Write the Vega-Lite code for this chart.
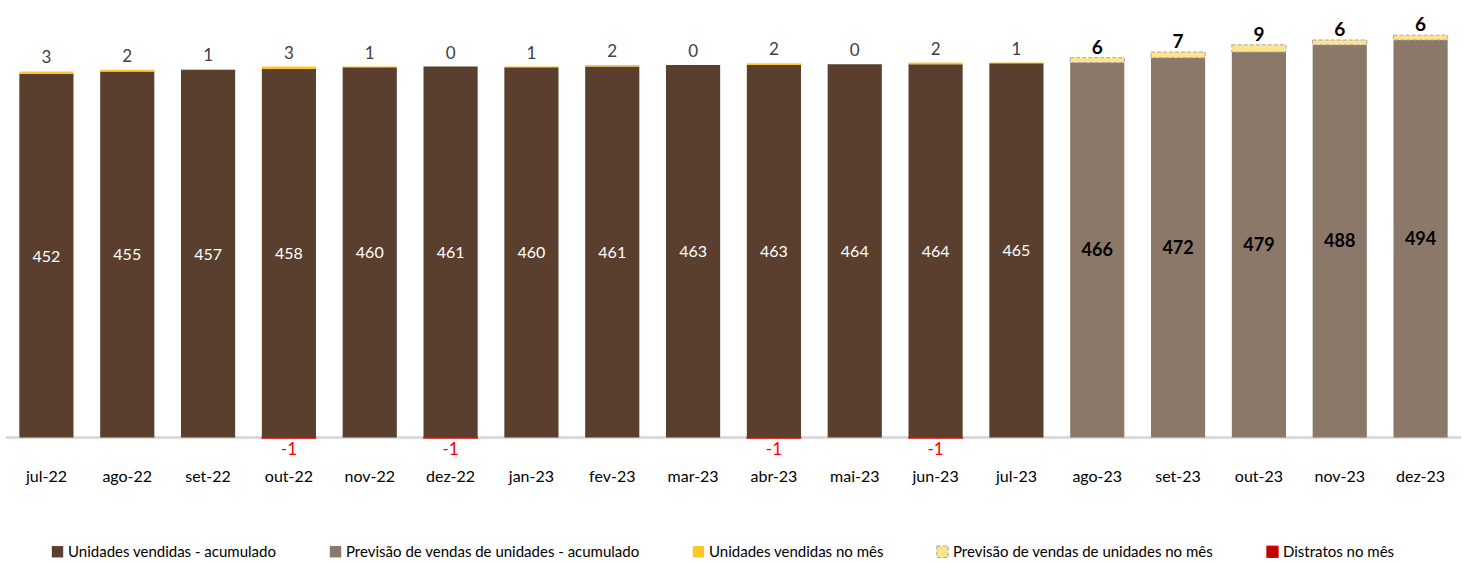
{
  "$schema": "https://vega.github.io/schema/vega-lite/v6.json",
  "width": 1455,
  "height": 436,
  "autosize": {"type": "none"},
  "padding": {"left": 6, "top": 3, "right": 2, "bottom": 124},
  "background": "white",
  "config": {"view": {"stroke": null}, "font": "Lato, sans-serif"},
  "data": {
    "values": [
      {"month": "jul-22", "series": "Unidades vendidas - acumulado", "value": 452, "kind": "real"},
      {"month": "jul-22", "series": "Unidades vendidas no mês", "value": 3, "kind": "real"},
      {"month": "ago-22", "series": "Unidades vendidas - acumulado", "value": 455, "kind": "real"},
      {"month": "ago-22", "series": "Unidades vendidas no mês", "value": 2, "kind": "real"},
      {"month": "set-22", "series": "Unidades vendidas - acumulado", "value": 457, "kind": "real"},
      {"month": "set-22", "series": "Unidades vendidas no mês", "value": 1, "kind": "real"},
      {"month": "out-22", "series": "Unidades vendidas - acumulado", "value": 458, "kind": "real"},
      {"month": "out-22", "series": "Unidades vendidas no mês", "value": 3, "kind": "real"},
      {"month": "out-22", "series": "Distratos no mês", "value": -1, "kind": "real"},
      {"month": "nov-22", "series": "Unidades vendidas - acumulado", "value": 460, "kind": "real"},
      {"month": "nov-22", "series": "Unidades vendidas no mês", "value": 1, "kind": "real"},
      {"month": "dez-22", "series": "Unidades vendidas - acumulado", "value": 461, "kind": "real"},
      {"month": "dez-22", "series": "Unidades vendidas no mês", "value": 0, "kind": "real"},
      {"month": "dez-22", "series": "Distratos no mês", "value": -1, "kind": "real"},
      {"month": "jan-23", "series": "Unidades vendidas - acumulado", "value": 460, "kind": "real"},
      {"month": "jan-23", "series": "Unidades vendidas no mês", "value": 1, "kind": "real"},
      {"month": "fev-23", "series": "Unidades vendidas - acumulado", "value": 461, "kind": "real"},
      {"month": "fev-23", "series": "Unidades vendidas no mês", "value": 2, "kind": "real"},
      {"month": "mar-23", "series": "Unidades vendidas - acumulado", "value": 463, "kind": "real"},
      {"month": "mar-23", "series": "Unidades vendidas no mês", "value": 0, "kind": "real"},
      {"month": "abr-23", "series": "Unidades vendidas - acumulado", "value": 463, "kind": "real"},
      {"month": "abr-23", "series": "Unidades vendidas no mês", "value": 2, "kind": "real"},
      {"month": "abr-23", "series": "Distratos no mês", "value": -1, "kind": "real"},
      {"month": "mai-23", "series": "Unidades vendidas - acumulado", "value": 464, "kind": "real"},
      {"month": "mai-23", "series": "Unidades vendidas no mês", "value": 0, "kind": "real"},
      {"month": "jun-23", "series": "Unidades vendidas - acumulado", "value": 464, "kind": "real"},
      {"month": "jun-23", "series": "Unidades vendidas no mês", "value": 2, "kind": "real"},
      {"month": "jun-23", "series": "Distratos no mês", "value": -1, "kind": "real"},
      {"month": "jul-23", "series": "Unidades vendidas - acumulado", "value": 465, "kind": "real"},
      {"month": "jul-23", "series": "Unidades vendidas no mês", "value": 1, "kind": "real"},
      {"month": "ago-23", "series": "Previsão de vendas de unidades - acumulado", "value": 466, "kind": "prev"},
      {"month": "ago-23", "series": "Previsão de vendas de unidades no mês", "value": 6, "kind": "prev"},
      {"month": "set-23", "series": "Previsão de vendas de unidades - acumulado", "value": 472, "kind": "prev"},
      {"month": "set-23", "series": "Previsão de vendas de unidades no mês", "value": 7, "kind": "prev"},
      {"month": "out-23", "series": "Previsão de vendas de unidades - acumulado", "value": 479, "kind": "prev"},
      {"month": "out-23", "series": "Previsão de vendas de unidades no mês", "value": 9, "kind": "prev"},
      {"month": "nov-23", "series": "Previsão de vendas de unidades - acumulado", "value": 488, "kind": "prev"},
      {"month": "nov-23", "series": "Previsão de vendas de unidades no mês", "value": 6, "kind": "prev"},
      {"month": "dez-23", "series": "Previsão de vendas de unidades - acumulado", "value": 494, "kind": "prev"},
      {"month": "dez-23", "series": "Previsão de vendas de unidades no mês", "value": 6, "kind": "prev"}
    ]
  },
  "encoding": {
    "x": {
      "field": "month", "type": "nominal", "sort": null, "title": null,
      "scale": {"paddingInner": 0.33, "paddingOuter": 0.165},
      "axis": {"domain": false, "ticks": false, "labelAngle": 0, "labelPadding": 29, "labelFontSize": 16, "labelColor": "#000000", "labelFont": "Lato, sans-serif"}
    }
  },
  "layer": [
    {
      "mark": {"type": "rule", "color": "#D9D9D9", "strokeWidth": 1.5},
      "encoding": {"x": null, "y": {"datum": 0, "type": "quantitative", "scale": {"domain": [-2, 540], "nice": false, "zero": false}, "axis": null}}
    },
    {
      "mark": {"type": "bar", "strokeWidth": 1},
      "encoding": {
        "y": {"field": "value", "type": "quantitative", "stack": "zero", "scale": {"domain": [-2, 540], "nice": false, "zero": false}, "axis": null},
        "order": {"field": "series", "sort": "ascending"},
        "fill": {
          "field": "series", "type": "nominal", "title": null,
          "scale": {
            "domain": ["Unidades vendidas - acumulado", "Previsão de vendas de unidades - acumulado", "Unidades vendidas no mês", "Previsão de vendas de unidades no mês", "Distratos no mês"],
            "range": ["#5A3F2E", "#8B7869", "#FFC62B", "#FFE48F", "#C00000"]
          },
          "legend": {
            "orient": "none", "legendX": 44, "legendY": 541, "direction": "horizontal",
            "symbolType": "square", "symbolSize": 130, "symbolStrokeWidth": 1,
            "labelFontSize": 15, "labelColor": "#000000", "labelFont": "Lato, sans-serif",
            "columnPadding": 50, "labelOffset": 3, "labelLimit": 400
          }
        },
        "stroke": {
          "field": "series", "type": "nominal", "title": null,
          "scale": {
            "domain": ["Unidades vendidas - acumulado", "Previsão de vendas de unidades - acumulado", "Unidades vendidas no mês", "Previsão de vendas de unidades no mês", "Distratos no mês"],
            "range": ["transparent", "transparent", "transparent", "#A6A6A6", "#E00000"]
          }
        },
        "strokeDash": {
          "field": "series", "type": "nominal", "title": null,
          "scale": {
            "domain": ["Unidades vendidas - acumulado", "Previsão de vendas de unidades - acumulado", "Unidades vendidas no mês", "Previsão de vendas de unidades no mês", "Distratos no mês"],
            "range": [[1, 0], [1, 0], [1, 0], [4, 2], [1, 0]]
          }
        }
      }
    },
    {
      "transform": [{"filter": "datum.series == 'Unidades vendidas - acumulado'"}],
      "mark": {"type": "text", "color": "#FFFFFF", "fontSize": 16, "baseline": "middle", "dy": 1},
      "encoding": {
        "y": {"field": "value", "type": "quantitative", "stack": null, "scale": {"domain": [-4, 1080], "nice": false, "zero": false}, "axis": null},
        "text": {"field": "value", "type": "quantitative"}
      }
    },
    {
      "transform": [{"filter": "datum.series == 'Previsão de vendas de unidades - acumulado'"}],
      "mark": {"type": "text", "color": "#000000", "fontSize": 18, "fontWeight": "bold", "baseline": "middle", "dy": 1},
      "encoding": {
        "y": {"field": "value", "type": "quantitative", "stack": null, "scale": {"domain": [-4, 1080], "nice": false, "zero": false}, "axis": null},
        "text": {"field": "value", "type": "quantitative"}
      }
    },
    {
      "transform": [{"filter": "datum.kind == 'real' && datum.series != 'Distratos no mês'"}],
      "mark": {"type": "text", "color": "#404040", "fontSize": 17, "baseline": "alphabetic", "dy": -8},
      "encoding": {
        "y": {"field": "value", "type": "quantitative", "stack": "zero", "scale": {"domain": [-2, 540], "nice": false, "zero": false}, "axis": null},
        "order": {"field": "series", "sort": "ascending"},
        "text": {"condition": {"test": "datum.series == 'Unidades vendidas no mês'", "field": "value", "type": "quantitative"}, "value": ""}
      }
    },
    {
      "transform": [{"filter": "datum.kind == 'prev'"}],
      "mark": {"type": "text", "color": "#000000", "fontSize": 19, "fontWeight": "bold", "baseline": "alphabetic", "dy": -4},
      "encoding": {
        "y": {"field": "value", "type": "quantitative", "stack": "zero", "scale": {"domain": [-2, 540], "nice": false, "zero": false}, "axis": null},
        "order": {"field": "series", "sort": "ascending"},
        "text": {"condition": {"test": "datum.series == 'Previsão de vendas de unidades no mês'", "field": "value", "type": "quantitative"}, "value": ""}
      }
    },
    {
      "transform": [{"filter": "datum.series == 'Distratos no mês'"}],
      "mark": {"type": "text", "color": "#FF0000", "fontSize": 17, "baseline": "top", "dy": 4},
      "encoding": {
        "y": {"field": "value", "type": "quantitative", "stack": null, "scale": {"domain": [-2, 540], "nice": false, "zero": false}, "axis": null},
        "text": {"field": "value", "type": "nominal"}
      }
    }
  ],
  "resolve": {"scale": {"y": "independent"}}
}
